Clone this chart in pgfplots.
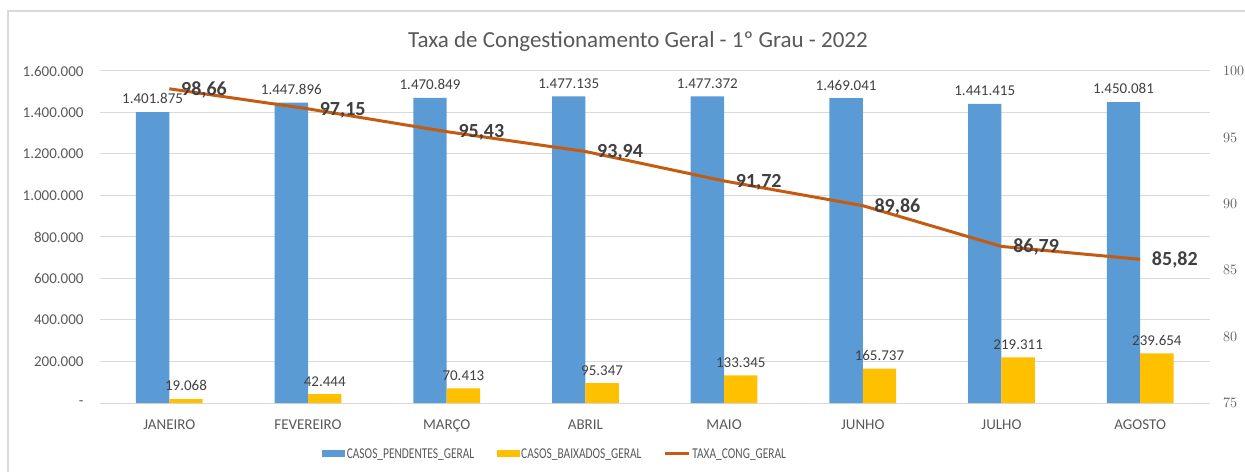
\documentclass[border=0pt]{standalone}
\usepackage{fontspec}
\setmainfont{Carlito}
\usepackage{graphicx}
\usepackage{pgfplots}
\usepackage{pgfplotstable}
\pgfplotsset{compat=1.18}

\definecolor{barblue}{HTML}{5B9BD5}
\definecolor{baryellow}{HTML}{FFC000}
\definecolor{lineorange}{HTML}{C55A11}
\definecolor{txtgray}{HTML}{595959}
\definecolor{lblgray}{HTML}{404040}
\definecolor{gridgray}{HTML}{D9D9D9}

\pgfplotsset{
  barleg/.style={legend image code/.code={\fill[##1] (0bp,-3.5bp) rectangle (23bp,3.5bp);}},
  lineleg/.style={legend image code/.code={\draw[##1] (0bp,0bp) -- (24bp,0bp);}},
}

% mes, pendentes, baixados, taxa (rotulos como texto)
\pgfplotstableread{
x pend lp baix lb taxa lt
0 1401875 1.401.875 19068 19.068 98.66 98,66
1 1447896 1.447.896 42444 42.444 97.15 97,15
2 1470849 1.470.849 70413 70.413 95.43 95,43
3 1477135 1.477.135 95347 95.347 93.94 93,94
4 1477372 1.477.372 133345 133.345 91.72 91,72
5 1469041 1.469.041 165737 165.737 89.86 89,86
6 1441415 1.441.415 219311 219.311 86.79 86,79
7 1450081 1.450.081 239654 239.654 85.82 85,82
}\dados

\newcommand{\tickfont}{\fontsize{15bp}{17bp}\selectfont}

\begin{document}
\begin{tikzpicture}
\useasboundingbox (0,0) rectangle (1245bp,472bp);
\draw[gridgray, line width=1.3bp] (8bp,0bp) -- (8bp,461bp) -- (1245bp,461bp);
\node[anchor=base, text=txtgray, font=\fontsize{23bp}{26bp}\selectfont]
  at (638bp,424.7bp) {Taxa de Congestionamento Geral - 1º Grau - 2022};

\begin{axis}[
  at={(100bp,69bp)}, anchor=south west,
  width=1109.5bp, height=332bp, scale only axis,
  xmin=-0.5, xmax=7.5, ymin=0, ymax=1600000,
  ybar=0pt, bar width=33.4bp,
  axis line style={draw=none}, tick style={draw=none},
  xtick={0,...,7},
  xticklabels={JANEIRO,FEVEREIRO,MARÇO,ABRIL,MAIO,JUNHO,JULHO,AGOSTO},
  ytick={0,200000,...,1600000},
  yticklabels={-\hspace{9bp},200.000,400.000,600.000,800.000,1.000.000,1.200.000,1.400.000,1.600.000},
  ymajorgrids, grid style={gridgray, line width=1bp},
  tick label style={font=\tickfont, text=txtgray},
  xticklabel style={yshift=-9bp},
  yticklabel style={xshift=-13bp},
  scaled y ticks=false,
  clip=false,
  nodes near coords, point meta=explicit symbolic,
  every node near coord/.append style={font=\tickfont, text=lblgray, yshift=4.5bp},
]
\addplot[fill=barblue, draw=none] table[x=x, y=pend, meta=lp] {\dados};
\addplot[fill=baryellow, draw=none] table[x=x, y=baix, meta=lb] {\dados};
\end{axis}

\begin{axis}[
  at={(100bp,69bp)}, anchor=south west,
  width=1109.5bp, height=332bp, scale only axis,
  xmin=-0.5, xmax=7.5, ymin=75, ymax=100,
  axis x line=none, axis y line*=right,
  y axis line style={draw=none}, tick style={draw=none},
  ytick={75,80,...,100},
  tick label style={font=\tickfont, text=txtgray},
  yticklabel style={xshift=10bp},
  clip=false,
  legend columns=3,
  legend style={at={(0.410,-0.1536)}, anchor=center, draw=none, fill=none,
    font=\tickfont, text=txtgray, inner xsep=0pt,
    nodes={inner sep=1.5bp},
    /tikz/every even column/.append style={column sep=21bp}},
]
\addlegendimage{fill=barblue, draw=none, barleg}
\addlegendentry{\scalebox{0.76}[1]{CASOS\_PENDENTES\_GERAL}}
\addlegendimage{fill=baryellow, draw=none, barleg}
\addlegendentry{\scalebox{0.76}[1]{CASOS\_BAIXADOS\_GERAL}}
\addlegendimage{lineorange, line width=3bp, lineleg}
\addlegendentry{\scalebox{0.76}[1]{TAXA\_CONG\_GERAL}}

\addplot[lineorange, line width=3bp, forget plot,
  nodes near coords, point meta=explicit symbolic,
  every node near coord/.append style={anchor=west, xshift=7bp, yshift=-1bp,
    font=\bfseries\fontsize{20bp}{22bp}\selectfont, text=lblgray}]
  table[x=x, y=taxa, meta=lt] {\dados};
\end{axis}
\end{tikzpicture}
\end{document}
